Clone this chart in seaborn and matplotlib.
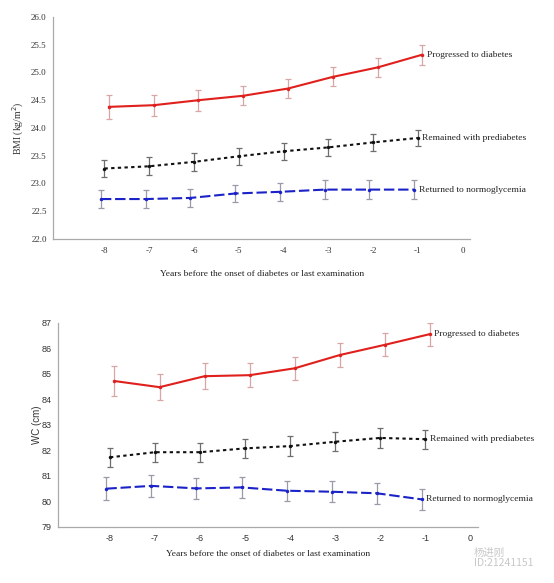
import pandas as pd
import matplotlib
matplotlib.use("Agg")
import matplotlib.pyplot as plt
import seaborn as sns
from matplotlib.ticker import MultipleLocator

# values
years = [-8, -7, -6, -5, -4, -3, -2, -1]
groups = ["Progressed to diabetes", "Remained with prediabetes", "Returned to normoglycemia"]

bmi_progressed = [24.38, 24.41, 24.50, 24.58, 24.71, 24.92, 25.09, 25.32]
bmi_remained = [23.27, 23.31, 23.39, 23.49, 23.58, 23.65, 23.74, 23.82]
bmi_returned = [22.72, 22.72, 22.74, 22.82, 22.85, 22.89, 22.89, 22.89]
bmi_err_progressed = [0.21, 0.19, 0.19, 0.17, 0.17, 0.17, 0.17, 0.18]
bmi_err_remained = [0.16, 0.16, 0.16, 0.15, 0.15, 0.15, 0.15, 0.15]
bmi_err_returned = [0.17, 0.17, 0.16, 0.16, 0.16, 0.17, 0.17, 0.17]

wc_progressed = [84.71, 84.47, 84.90, 84.94, 85.21, 85.73, 86.13, 86.55]
wc_remained = [81.72, 81.92, 81.92, 82.07, 82.16, 82.33, 82.48, 82.43]
wc_returned = [80.49, 80.60, 80.50, 80.54, 80.41, 80.37, 80.31, 80.07]
wc_err_progressed = [0.59, 0.50, 0.50, 0.48, 0.45, 0.46, 0.45, 0.45]
wc_err_remained = [0.38, 0.37, 0.37, 0.38, 0.38, 0.38, 0.39, 0.38]
wc_err_returned = [0.44, 0.43, 0.42, 0.42, 0.40, 0.42, 0.42, 0.40]

LINE_COLORS = {groups[0]: "#e0201c", groups[1]: "#111111", groups[2]: "#1a22c8"}
ERR_COLORS = {groups[0]: "#d8a6a6", groups[1]: "#6e6e6e", groups[2]: "#9a9aa8"}
DASHES = {groups[0]: "", groups[1]: (1.6, 1.6), groups[2]: (5, 1.8)}
OFFSETS = {groups[0]: 0.1, groups[1]: 0.0, groups[2]: -0.08}
WIDTHS = {groups[0]: 2.0, groups[1]: 2.2, groups[2]: 2.4}


def make_frame(means, errs):
    rows = []
    for g, m, e in zip(groups, means, errs):
        for yr, v, s in zip(years, m, e):
            rows.append({"group": g, "year": yr + OFFSETS[g], "value": v, "err": s})
    return pd.DataFrame(rows)


def draw_panel(ax, df, ylim, ystep, ylabel, tick_font, xlabelpad, ylabelpad):
    for g in groups:
        sub = df[df["group"] == g]
        ax.errorbar(sub["year"], sub["value"], yerr=sub["err"], fmt="none",
                    ecolor=ERR_COLORS[g], elinewidth=0.9, capsize=2.5,
                    capthick=0.9, zorder=2)
    sns.lineplot(data=df, x="year", y="value", hue="group", style="group",
                 palette=LINE_COLORS, dashes=DASHES, markers=["o", "o", "o"],
                 markersize=2.5, markeredgewidth=0, legend=False, ax=ax,
                 zorder=3)
    for line, g in zip(ax.lines, groups):
        line.set_linewidth(WIDTHS[g])
    for g in groups:
        sub = df[df["group"] == g]
        ax.text(sub["year"].iloc[-1] + 0.1, sub["value"].iloc[-1], g,
                ha="left", va="center", fontsize=6.8,
                family="Liberation Serif", color="#222222")

    ax.set_xlim(-9.15, 0.17)
    ax.set_ylim(*ylim)
    ax.set_xticks(list(range(-8, 1)))
    ax.set_xticklabels([str(v) for v in range(-8, 1)])
    ax.yaxis.set_major_locator(MultipleLocator(ystep))
    ax.yaxis.set_minor_locator(MultipleLocator(ystep / 5))
    ax.tick_params(axis="x", length=0, pad=5.5, labelsize=6.5, colors="#333333")
    ax.tick_params(axis="y", which="major", length=3, width=0.6,
                   labelsize=6.5, colors="#999999", labelcolor="#333333", pad=1.5)
    ax.tick_params(axis="y", which="minor", length=1.5, width=0.5, colors="#bbbbbb")
    for lab in ax.get_xticklabels() + ax.get_yticklabels():
        lab.set_family(tick_font)
    for side in ["top", "right"]:
        ax.spines[side].set_visible(False)
    for side in ["left", "bottom"]:
        ax.spines[side].set_color("#aaaaaa")
        ax.spines[side].set_linewidth(0.9)
    ax.set_xlabel("Years before the onset of diabetes or last examination",
                  family="Liberation Serif", fontsize=6.8, color="#222222",
                  labelpad=xlabelpad)
    ax.set_ylabel(ylabel, family=tick_font, fontsize=7, color="#333333",
                  labelpad=ylabelpad)


sns.set_style("white")

fig = plt.figure(figsize=(5.54, 5.83), dpi=100)
ax_bmi = fig.add_axes([0.0957, 0.590, 0.753, 0.381])
ax_wc = fig.add_axes([0.105, 0.0966, 0.758, 0.350])

bmi_df = make_frame([bmi_progressed, bmi_remained, bmi_returned],
                    [bmi_err_progressed, bmi_err_remained, bmi_err_returned])
wc_df = make_frame([wc_progressed, wc_remained, wc_returned],
                   [wc_err_progressed, wc_err_remained, wc_err_returned])

draw_panel(ax_bmi, bmi_df, (22.0, 26.0), 0.5, "BMI (kg/m$^2$)",
           "Liberation Serif", 11, 4)
ax_bmi.yaxis.set_major_formatter(plt.FormatStrFormatter("%.1f"))
for lab in ax_bmi.get_yticklabels():
    lab.set_family("Liberation Serif")
draw_panel(ax_wc, wc_df, (79, 87), 1, "WC (cm)", "Liberation Sans", 4.5, 0)

# watermark in the bottom right corner
fig.text(0.855, 0.043, "杨进刚\nID:21241151", fontsize=7.5, color="#c8c8c8",
         family=["Noto Sans CJK SC", "DejaVu Sans"], ha="left", va="center",
         linespacing=1.0)

fig.savefig("out.png", dpi=100)
